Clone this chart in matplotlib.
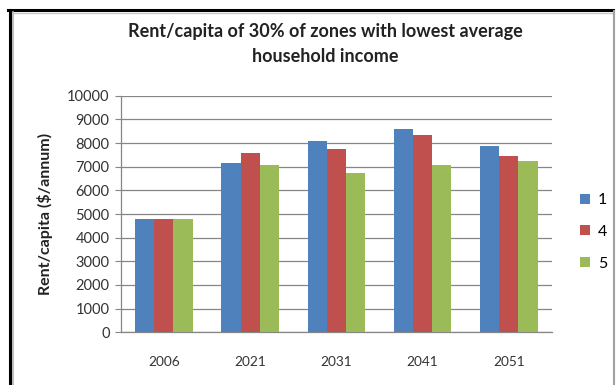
import numpy as np
import matplotlib
matplotlib.use("Agg")
import matplotlib.pyplot as plt
from matplotlib.lines import Line2D

years = ["2006", "2021", "2031", "2041", "2051"]
series_names = ["1", "4", "5"]
rent_1 = [4800, 7170, 8100, 8590, 7890]
rent_4 = [4800, 7570, 7730, 8330, 7450]
rent_5 = [4800, 7070, 6750, 7070, 7240]
colors = ["#4F81BD", "#C0504D", "#9BBB59"]

plt.rcParams["font.family"] = ["Lato", "DejaVu Sans"]

fig = plt.figure(figsize=(6.16, 3.85), dpi=100)
W, H = 616, 385

# frame around the chart area
fig.add_artist(Line2D([9.5 / W, 9.5 / W], [0, 1 - 9.5 / H], color="black", lw=2.2))
fig.add_artist(Line2D([8 / W, 613 / W], [1 - 9.5 / H, 1 - 9.5 / H], color="black", lw=2.2))
fig.add_artist(Line2D([12.5 / W, 12.5 / W], [0, 1 - 12 / H], color="#b0b0b0", lw=1.2))
fig.add_artist(Line2D([12.5 / W, 612 / W], [1 - 12.5 / H, 1 - 12.5 / H], color="#c8c8c8", lw=1.0))
fig.add_artist(Line2D([613.5 / W, 613.5 / W], [0, 1 - 11 / H], color="#a0a0a0", lw=1.5))

ax = fig.add_axes([120.7 / W, 1 - 332.3 / H, (552 - 120.7) / W, (332.3 - 95.7) / H])

x = np.arange(len(years))
width = 1 / 4.5
for i, (vals, name) in enumerate(zip([rent_1, rent_4, rent_5], series_names)):
    ax.bar(x + (i - 1) * width, vals, width, color=colors[i], label=name, zorder=3)

ax.set_xlim(-0.5, len(years) - 0.5)
ax.set_ylim(0, 10000)
ax.set_yticks(np.arange(0, 10001, 1000))
ax.set_xticks(x)
ax.set_xticklabels(years)
ax.yaxis.grid(True, color="#868686", lw=0.9, zorder=0)
for s in ["top", "right"]:
    ax.spines[s].set_visible(False)
for s in ["left", "bottom"]:
    ax.spines[s].set_color("#868686")
    ax.spines[s].set_linewidth(0.9)
ax.tick_params(axis="y", length=4, color="#868686", labelsize=10.5, labelcolor="#333333", pad=4)
ax.tick_params(axis="x", length=0, labelsize=9.8, labelcolor="#333333", pad=17)

ax.set_ylabel("Rent/capita ($/annum)", fontsize=11.5, fontweight="bold", labelpad=10, color="#222222")

fig.text(325 / W, 1 - 32 / H, "Rent/capita of 30% of zones with lowest average",
         ha="center", va="center", fontsize=13, fontweight="bold", color="#222222")
fig.text(325 / W, 1 - 57 / H, "household income",
         ha="center", va="center", fontsize=13, fontweight="bold", color="#222222")

fig.legend(loc="center left", bbox_to_anchor=(574 / W, 1 - 232 / H), frameon=False,
           fontsize=11.5, handlelength=0.6, handleheight=0.6, handletextpad=0.5,
           labelspacing=1.1, borderaxespad=0)

fig.savefig("out.png", dpi=100)
